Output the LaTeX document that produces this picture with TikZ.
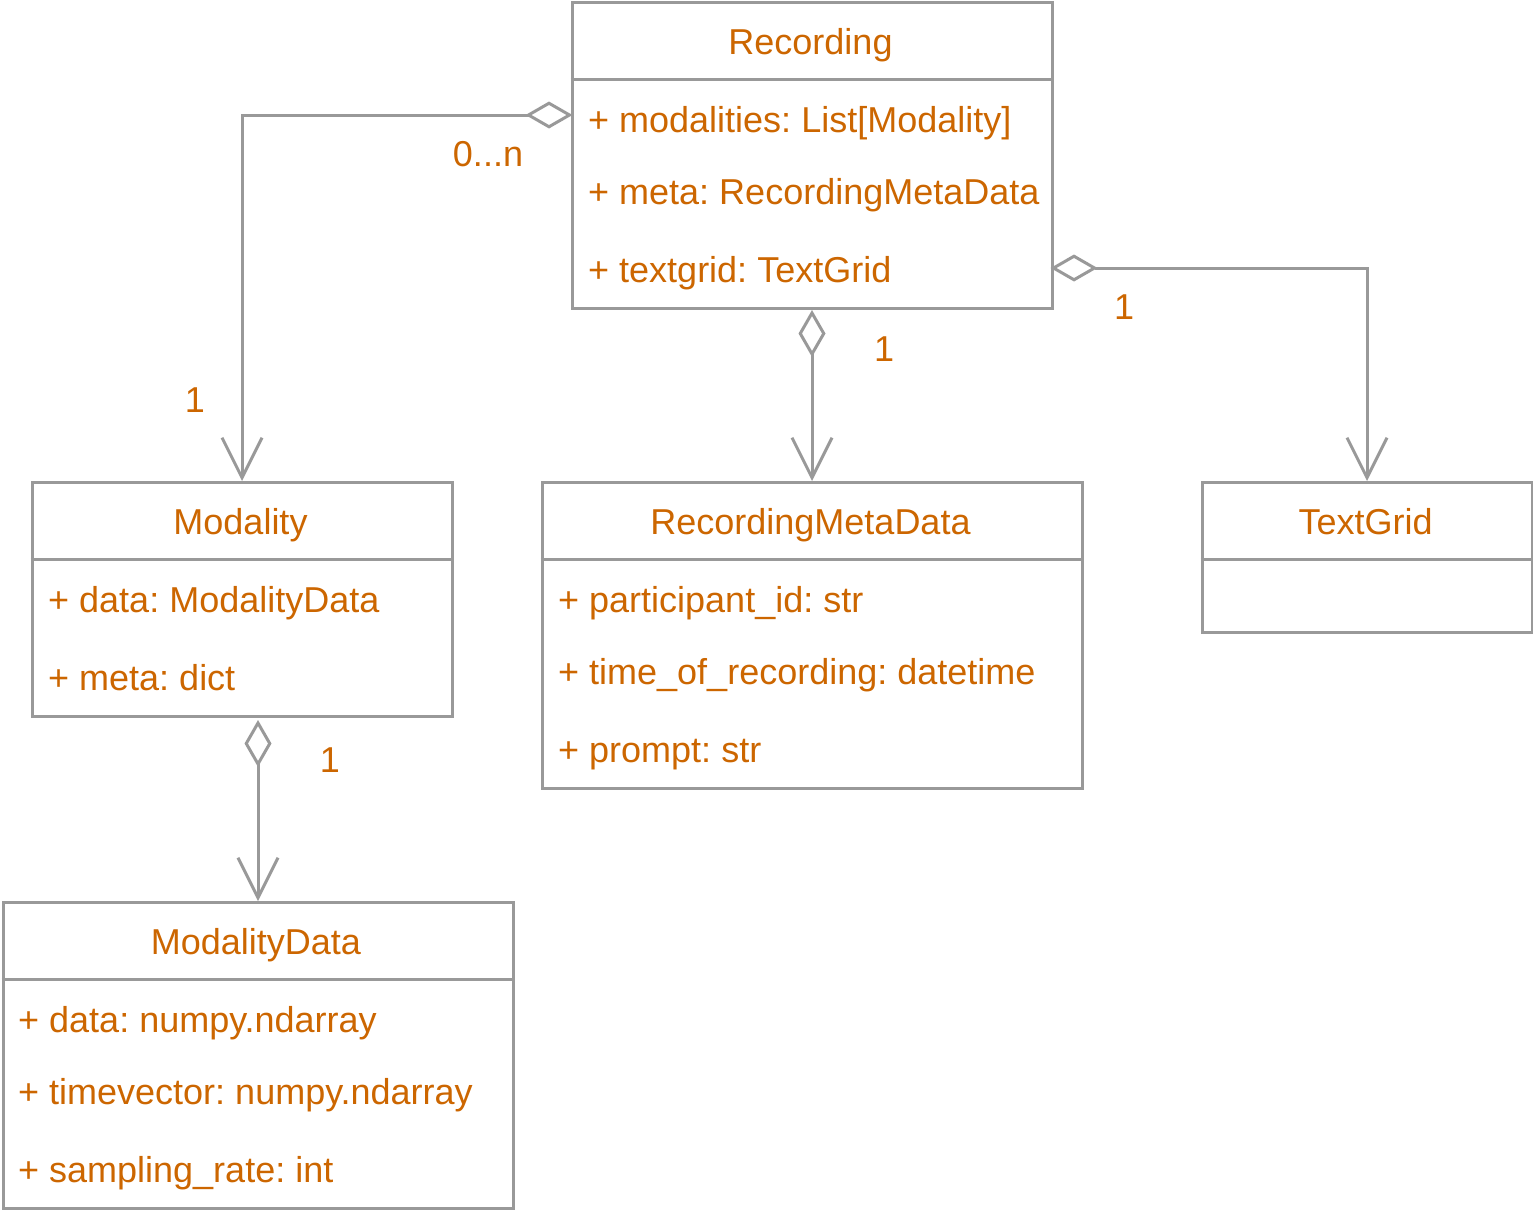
\documentclass[tikz,border=0pt]{standalone}
\usepackage{fontspec}
\setmainfont{Liberation Sans}
\usetikzlibrary{arrows.meta}
\definecolor{umlgray}{HTML}{999999}
\definecolor{umltext}{HTML}{CC6600}
\frenchspacing
\tikzset{
  umlbox/.style={draw=umlgray, line width=3pt, rectangle, anchor=north west, inner sep=0pt},
  umltitle/.style={text=umltext, anchor=base, inner sep=0pt},
  umlattr/.style={text=umltext, anchor=base west, inner sep=0pt},
  mult/.style={text=umltext, anchor=base, inner sep=0pt},
  aggr/.style={draw=umlgray, line width=3pt, {Diamond[open,length=47pt,width=27pt]}-{Straight Barb[length=40pt,width=40pt]}}
}
\begin{document}
\begin{tikzpicture}[x=1pt, y=-1pt, font=\fontsize{36}{43}\selectfont]
  \useasboundingbox (0,0) rectangle (1533,1218);
  \node [umlbox, minimum width=480pt, minimum height=306pt] (rec) at (570.5,1) {};
  \draw [umlgray, line width=3pt] (570.5,79) -- (1050.5,79);
  \node [umltitle] (recT) at (810.5,54) {Recording};
  \node [umlattr] (recA) at (588,132) {+ modalities: List[Modality]};
  \node [umlattr] (recB) at (588,204) {+ meta: RecordingMetaData};
  \node [umlattr] (recC) at (588,282) {+ textgrid: TextGrid};
  \node [umlbox, minimum width=420pt, minimum height=234pt] (mod) at (30.5,481) {};
  \draw [umlgray, line width=3pt] (30.5,559) -- (450.5,559);
  \node [umltitle] (modT) at (240.5,534) {Modality};
  \node [umlattr] (modA) at (48,612) {+ data: ModalityData};
  \node [umlattr] (modB) at (48,690) {+ meta: dict};
  \node [umlbox, minimum width=540pt, minimum height=306pt] (rmd) at (540.5,481) {};
  \draw [umlgray, line width=3pt] (540.5,559) -- (1080.5,559);
  \node [umltitle] (rmdT) at (810.5,534) {RecordingMetaData};
  \node [umlattr] (rmdA) at (558,612) {+ participant\_id: str};
  \node [umlattr] (rmdB) at (558,684) {+ time\_of\_recording: datetime};
  \node [umlattr] (rmdC) at (558,762) {+ prompt: str};
  \node [umlbox, minimum width=330pt, minimum height=150pt] (tg) at (1200.5,481) {};
  \draw [umlgray, line width=3pt] (1200.5,559) -- (1530.5,559);
  \node [umltitle] (tgT) at (1365.5,534) {TextGrid};
  \node [umlbox, minimum width=510pt, minimum height=306pt] (mdata) at (1.5,901) {};
  \draw [umlgray, line width=3pt] (1.5,979) -- (511.5,979);
  \node [umltitle] (mdataT) at (256,954) {ModalityData};
  \node [umlattr] (mdataA) at (18,1032) {+ data: numpy.ndarray};
  \node [umlattr] (mdataB) at (18,1104) {+ timevector: numpy.ndarray};
  \node [umlattr] (mdataC) at (18,1182) {+ sampling\_rate: int};
  \draw [aggr] ([xshift=2pt]rec.west |- 0,115) -| (mod.north);
  \draw [aggr] (rec.south) -- (rmd.north);
  \draw [aggr] ([xshift=-3pt]rec.east |- 0,268) -| (tg.north);
  \draw [aggr] ([yshift=-2pt]mdata.north |- mod.south) -- (mdata.north);
  \node [mult] (m1) at (488,166) {0...n};
  \node [mult] (m2) at (195,412) {1};
  \node [mult] (m3) at (884,361) {1};
  \node [mult] (m4) at (1124,319) {1};
  \node [mult] (m5) at (330,772) {1};
\end{tikzpicture}
\end{document}
